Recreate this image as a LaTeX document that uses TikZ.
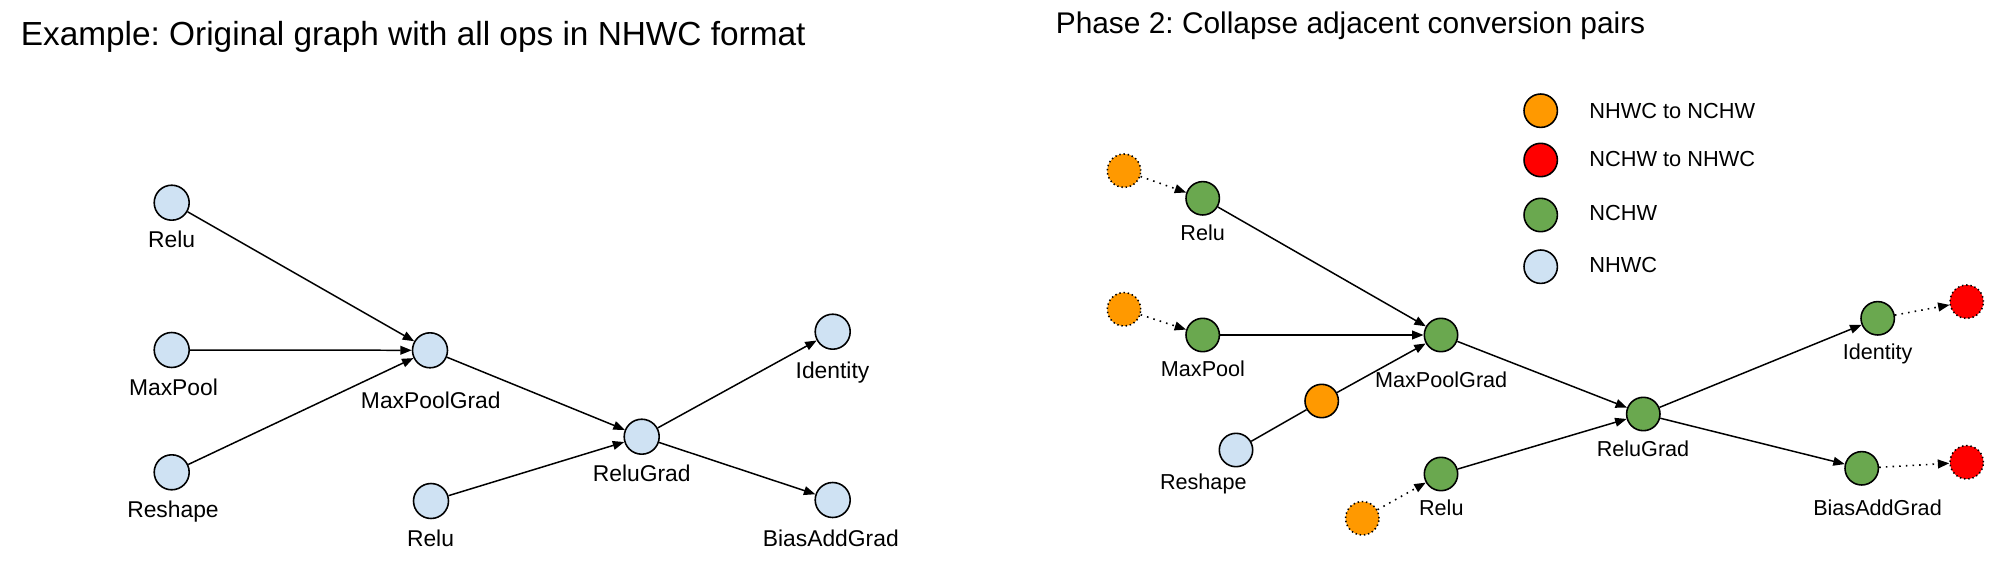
\documentclass[tikz,border=0pt]{standalone}
\usepackage{fontspec}
\setmainfont{Liberation Sans}
\usetikzlibrary{arrows.meta}
\definecolor{cOrange}{HTML}{FF9900}
\definecolor{cRed}{HTML}{FF0000}
\definecolor{cGreen}{HTML}{6AA84F}
\definecolor{cBlue}{HTML}{CFE2F3}
\frenchspacing
\begin{document}
\begin{tikzpicture}[x=0.02cm,y=-0.02cm,
  lop/.style={circle,draw=black,line width=0.9pt,fill=cBlue,minimum size=0.7cm,inner sep=0pt},
  rop/.style={circle,draw=black,line width=0.9pt,minimum size=0.668cm,inner sep=0pt},
  conv/.style={circle,draw=black,line width=0.9pt,dash pattern=on 0.8pt off 1.6pt,minimum size=0.668cm,inner sep=0pt},
  llbl/.style={inner sep=0pt,anchor=base,font=\fontsize{13}{15}\selectfont},
  rlbl/.style={inner sep=0pt,anchor=base,font=\fontsize{12.3}{14}\selectfont},
  leg/.style={inner sep=0pt,anchor=base west,font=\fontsize{12.4}{14}\selectfont},
  edge/.style={line width=0.85pt,-{Triangle[length=6.5pt,width=5pt]}},
  plain/.style={line width=0.85pt},
  dotedge/.style={line width=0.9pt,dash pattern=on 0.9pt off 2.9pt,-{Triangle[length=6.5pt,width=5pt]}}
]
\useasboundingbox (0,0) rectangle (2012,578);

% titles
\node[inner sep=0pt,anchor=base west,font=\fontsize{19}{22}\selectfont] (t1) at (20.5,45) {Example: Original graph with all ops in NHWC format};
\node[inner sep=0pt,anchor=base west,font=\fontsize{17}{20}\selectfont] (t2) at (1055.5,33) {Phase 2: Collapse adjacent conversion pairs};

% ---------- left graph ----------
\node[lop] (L1) at (171.7,202.7) {};
\node[lop] (LMP) at (171.7,350) {};
\node[lop] (LRS) at (171.7,472.3) {};
\node[lop] (LMPG) at (430,350.3) {};
\node[lop] (LR2) at (431,501) {};
\node[lop] (LRG) at (641.7,436.7) {};
\node[lop] (LID) at (832.7,331.7) {};
\node[lop] (LBG) at (832.7,500) {};

\node[llbl] (l1) at (171.7,247.3) {Relu};
\node[llbl] (lmp) at (173.5,395) {MaxPool};
\node[llbl] (lrs) at (173,517) {Reshape};
\node[llbl] (lmpg) at (430.8,408.3) {MaxPoolGrad};
\node[llbl] (lr2) at (430.5,546) {Relu};
\node[llbl] (lrg) at (641.7,481.7) {ReluGrad};
\node[llbl] (lid) at (832.5,378.3) {Identity};
\node[llbl] (lbg) at (830.8,546.7) {BiasAddGrad};

\draw[edge] (L1) -- (LMPG);
\draw[edge] (LMP) -- (LMPG);
\draw[edge] (LRS) -- (LMPG);
\draw[edge] (LMPG) -- (LRG);
\draw[edge] (LR2) -- (LRG);
\draw[edge] (LRG) -- (LID);
\draw[edge] (LRG) -- (LBG);

% ---------- right graph ----------
\node[conv,fill=cOrange] (RC1) at (1124,170.7) {};
\node[rop,fill=cGreen] (RR1) at (1202.7,198.3) {};
\node[conv,fill=cOrange] (RC2) at (1124,309.3) {};
\node[rop,fill=cGreen] (RMP) at (1202.7,335) {};
\node[rop,fill=cGreen] (RMPG) at (1441,335) {};
\node[rop,fill=cOrange] (RO) at (1321.7,401) {};
\node[rop,fill=cBlue] (RRS) at (1236,450) {};
\node[rop,fill=cGreen] (RR2) at (1441,474) {};
\node[conv,fill=cOrange] (RC3) at (1362.3,518.3) {};
\node[rop,fill=cGreen] (RRG) at (1643.3,414) {};
\node[rop,fill=cGreen] (RID) at (1877.7,318.3) {};
\node[rop,fill=cGreen] (RBG) at (1861.7,468.3) {};
\node[conv,fill=cRed] (RX1) at (1966.7,301.7) {};
\node[conv,fill=cRed] (RX2) at (1966.7,462.3) {};

\node[rlbl] (r1) at (1202.7,240.7) {Relu};
\node[rlbl] (rmp) at (1203,376.7) {MaxPool};
\node[rlbl] (rmpg) at (1441.2,387.3) {MaxPoolGrad};
\node[rlbl] (rrs) at (1203.3,489.3) {Reshape};
\node[rlbl] (rr2) at (1441.3,515.3) {Relu};
\node[rlbl] (rrg) at (1643,456) {ReluGrad};
\node[rlbl] (rid) at (1877.7,359.3) {Identity};
\node[rlbl] (rbg) at (1877.5,515.7) {BiasAddGrad};

\draw[dotedge] (RC1) -- (RR1);
\draw[dotedge] (RC2) -- (RMP);
\draw[edge] (RR1) -- (RMPG);
\draw[edge] (RMP) -- (RMPG);
\draw[plain] (RRS) -- (RO);
\draw[edge] (RO) -- (RMPG);
\draw[edge] (RMPG) -- (RRG);
\draw[dotedge] (RC3) -- (RR2);
\draw[edge] (RR2) -- (RRG);
\draw[edge] (RRG) -- (RID);
\draw[edge] (RRG) -- (RBG);
\draw[dotedge] (RID) -- (RX1);
\draw[dotedge] (RBG) -- (RX2);

% ---------- legend ----------
\node[rop,fill=cOrange] (K1) at (1540.7,110.7) {};
\node[rop,fill=cRed] (K2) at (1540.7,160) {};
\node[rop,fill=cGreen] (K3) at (1540.7,215) {};
\node[rop,fill=cBlue] (K4) at (1540.7,266.7) {};
\node[leg] (k1) at (1589,118.3) {NHWC to NCHW};
\node[leg] (k2) at (1589,166.7) {NCHW to NHWC};
\node[leg] (k3) at (1589,220) {NCHW};
\node[leg] (k4) at (1589,272.7) {NHWC};
\end{tikzpicture}
\end{document}
